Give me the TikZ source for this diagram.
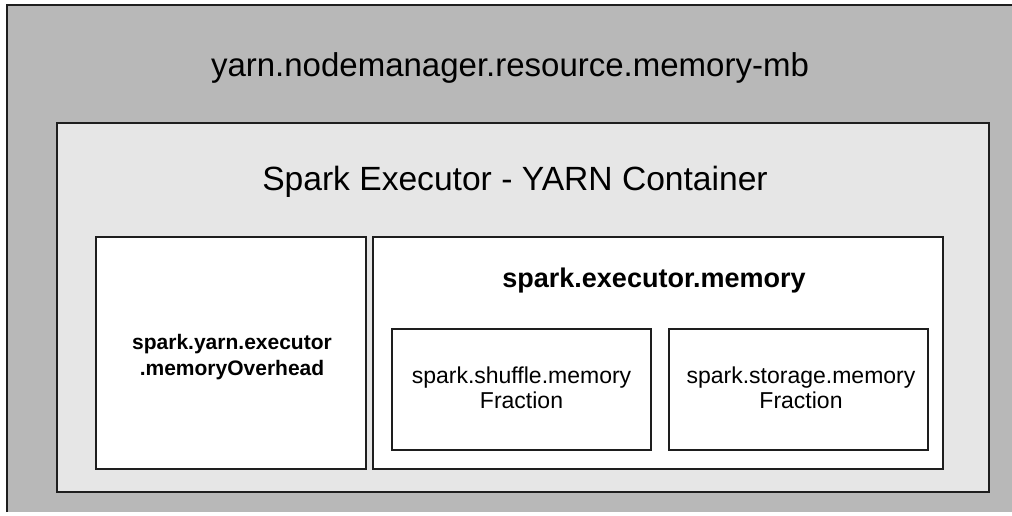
\documentclass[tikz,border=0pt]{standalone}
\usepackage{fontspec}
\setmainfont{Liberation Sans}
\definecolor{outergray}{HTML}{B8B8B8}
\definecolor{innergray}{HTML}{E6E6E6}
\definecolor{edge}{HTML}{1E1E1E}
\tikzset{
  box/.style={draw=edge, line width=2.2pt},
  lbl/.style={anchor=base, inner sep=0pt, text=black, align=center},
}
\begin{document}
\begin{tikzpicture}[x=1pt,y=-1pt]
\useasboundingbox (0,0) rectangle (1012,516);
% outer (cropped) box
\fill[outergray] (7,5) rectangle (1012,512);
\draw[edge, line width=2.6pt] (7,512) coordinate (obl) -- (7,5) coordinate (otl) -- (1012,5) coordinate (otr);
\node[lbl, font=\fontsize{33}{40}\selectfont] (t1) at (510,77) {yarn.nodemanager.resource.memory-mb};
% container
\draw[box, fill=innergray] (57,123) rectangle (989,492);
\node[lbl, font=\fontsize{33.6}{40}\selectfont] (t2) at (515,190) {Spark Executor - YARN Container};
% overhead box
\draw[box, fill=white] (96,237) rectangle (366,469);
\node[lbl, font=\fontsize{21}{26}\selectfont\bfseries] (t3) at (232,349) {spark.yarn.executor};
\node[lbl, font=\fontsize{21}{26}\selectfont\bfseries] (t3b) at (232,375) {.memoryOverhead};
% executor memory box
\draw[box, fill=white] (373,237) rectangle (943,469);
\node[lbl, font=\fontsize{27}{32}\selectfont\bfseries] (t4) at (654,287) {spark.executor.memory};
% shuffle
\draw[box, line width=1.8pt, fill=white] (392,329) rectangle (651,450);
\node[lbl, font=\fontsize{23}{28}\selectfont] (t5) at (521.5,383) {spark.shuffle.memory};
\node[lbl, font=\fontsize{23}{28}\selectfont] (t5b) at (521.5,408) {Fraction};
% storage
\draw[box, line width=1.8pt, fill=white] (669,329) rectangle (928,450);
\node[lbl, font=\fontsize{23}{28}\selectfont] (t6) at (801,383) {spark.storage.memory};
\node[lbl, font=\fontsize{23}{28}\selectfont] (t6b) at (801,408) {Fraction};
\end{tikzpicture}
\end{document}
